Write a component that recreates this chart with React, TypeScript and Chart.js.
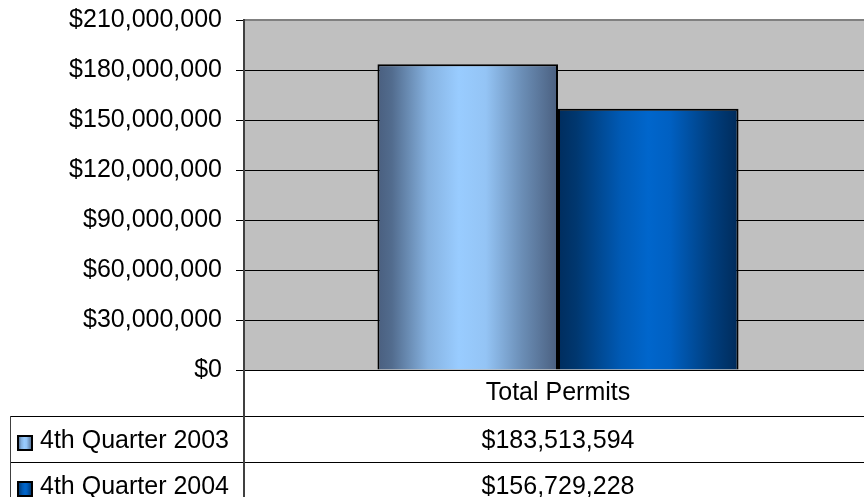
import React, { useEffect, useRef } from 'react';
import { Chart, registerables } from 'chart.js';

Chart.register(...registerables);

const categories = ['Total Permits'];
const seriesNames = ['4th Quarter 2003', '4th Quarter 2004'];
const q2003 = [183513594];
const q2004 = [156729228];
const yMin = 0;
const yMax = 210000000;
const yStep = 30000000;

const W = 864;
const H = 497;
const CANVAS_W = 872; // plot area runs past the right edge of the picture
const FONT = '"Liberation Sans", Arial, sans-serif';
const FONT_SIZE = 25;
const CAT_PCT = 0.575;

const stops2003: [number, string][] = [
  [0, '#4a5f7f'], [0.08, '#526c8e'], [0.28, '#86b2e0'], [0.45, '#99ccff'],
  [0.6, '#94c4f5'], [0.8, '#6b8eb6'], [1, '#4a5f7f'],
];
const stops2004: [number, string][] = [
  [0, '#002d5e'], [0.1, '#00376f'], [0.35, '#005ab5'], [0.5, '#0066cc'],
  [0.62, '#0060c2'], [0.85, '#003e7e'], [1, '#002b5a'],
];
const allStops = [stops2003, stops2004];
const allData = [q2003, q2004];

function grad(ctx: CanvasRenderingContext2D, x0: number, x1: number, stops: [number, string][]) {
  const g = ctx.createLinearGradient(x0, 0, x1, 0);
  stops.forEach(([p, c]) => g.addColorStop(p, c));
  return g;
}

function barBg(chart: any, di: number) {
  const xs = chart.scales?.x;
  const stops = allStops[di];
  if (!xs || !chart.chartArea) return stops[3][1];
  const center = xs.getPixelForValue(0);
  const catW = xs.width / categories.length;
  const groupW = catW * CAT_PCT;
  const bw = groupW / allData.length;
  const left = center - groupW / 2 + di * bw;
  return grad(chart.ctx, left, left + bw, stops);
}

const fmt = (v: number) => '$' + Number(v).toLocaleString('en-US');

const tablePlugin = {
  id: 'tablePlugin',
  beforeDraw(chart: any) {
    const { ctx, chartArea: a } = chart;
    ctx.save();
    ctx.fillStyle = '#ffffff';
    ctx.fillRect(0, 0, chart.width, chart.height);
    ctx.fillStyle = '#c0c0c0';
    ctx.fillRect(a.left, a.top, a.right - a.left, a.bottom - a.top);
    ctx.restore();
  },
  beforeDatasetsDraw(chart: any) {
    const { ctx, chartArea: a } = chart;
    ctx.save();
    ctx.strokeStyle = '#808080';
    ctx.lineWidth = 2;
    ctx.beginPath();
    ctx.moveTo(a.left, a.top);
    ctx.lineTo(a.right, a.top);
    ctx.stroke();
    ctx.restore();
  },
  afterDraw(chart: any) {
    const { ctx, chartArea: a } = chart;
    const xs = chart.scales.x;
    const rowH = 46;
    const catRowBottom = a.bottom + rowH;
    const tableLeft = 10;
    ctx.save();
    ctx.strokeStyle = '#000000';
    ctx.lineWidth = 1;
    for (let r = 0; r < allData.length; r++) {
      const y = Math.round(catRowBottom + r * rowH) + 0.5;
      ctx.beginPath();
      ctx.moveTo(tableLeft, y);
      ctx.lineTo(chart.width, y);
      ctx.stroke();
    }
    ctx.strokeStyle = '#404040';
    ctx.beginPath();
    ctx.moveTo(tableLeft + 0.5, catRowBottom);
    ctx.lineTo(tableLeft + 0.5, chart.height);
    ctx.stroke();
    ctx.lineWidth = 2;
    ctx.strokeStyle = '#404040';
    ctx.beginPath();
    ctx.moveTo(a.left, a.top - 1);
    ctx.lineTo(a.left, chart.height);
    ctx.stroke();
    ctx.fillStyle = '#000000';
    ctx.font = `${FONT_SIZE}px ${FONT}`;
    ctx.textBaseline = 'middle';
    ctx.textAlign = 'center';
    categories.forEach((c, i) => {
      const cx = xs.getPixelForValue(i);
      ctx.fillText(c, cx, a.bottom + rowH / 2);
      allData.forEach((d, r) => {
        ctx.fillText(fmt(d[i]), cx, catRowBottom + r * rowH + rowH / 2 + 2);
      });
    });
    ctx.textAlign = 'left';
    seriesNames.forEach((n, r) => {
      const cy = catRowBottom + r * rowH + rowH / 2 + 2;
      const kx = 17, ks = 16, ky = Math.round(cy - ks / 2) + 2;
      ctx.fillStyle = grad(ctx, kx, kx + ks, allStops[r]);
      ctx.fillRect(kx, ky, ks, ks);
      ctx.strokeStyle = '#000000';
      ctx.lineWidth = 2;
      ctx.strokeRect(kx + 1, ky + 1, ks - 2, ks - 2);
      ctx.fillStyle = '#000000';
      ctx.fillText(n, 40, cy);
    });
    ctx.restore();
  },
};

export default function App() {
  const ref = useRef<HTMLCanvasElement>(null);
  useEffect(() => {
    if (!ref.current) return;
    const chart = new Chart(ref.current, {
      type: 'bar',
      data: {
        labels: categories,
        datasets: allData.map((d, i) => ({
          label: seriesNames[i],
          data: d,
          backgroundColor: (c: any) => barBg(c.chart, i),
          borderColor: '#000000',
          borderWidth: 2,
          borderSkipped: 'start',
          categoryPercentage: CAT_PCT,
          barPercentage: 1,
        })),
      },
      options: {
        animation: false,
        responsive: false,
        devicePixelRatio: 1,
        layout: { padding: { left: 0, right: 0, top: 20, bottom: 127 } },
        plugins: { legend: { display: false }, tooltip: { enabled: false }, title: { display: false } },
        scales: {
          x: { display: false, offset: true, grid: { display: false } },
          y: {
            min: yMin,
            max: yMax,
            afterFit: (s: any) => { s.width = 244; s.paddingTop = 0; s.paddingBottom = 0; },
            ticks: {
              stepSize: yStep,
              color: '#000000',
              padding: 14,
              font: { family: FONT, size: FONT_SIZE },
              callback: (v: any) => fmt(v),
            },
            grid: { color: '#000000', lineWidth: 1, tickLength: 8, drawTicks: true },
            border: { display: false },
          },
        },
      } as any,
      plugins: [tablePlugin],
    });
    return () => chart.destroy();
  }, []);
  return (
    <div style={{ position: 'fixed', left: 0, top: 0, width: W, height: H, overflow: 'hidden', background: '#fff' }}>
      <canvas ref={ref} width={CANVAS_W} height={H} style={{ width: CANVAS_W, height: H, display: 'block' }} />
    </div>
  );
}
